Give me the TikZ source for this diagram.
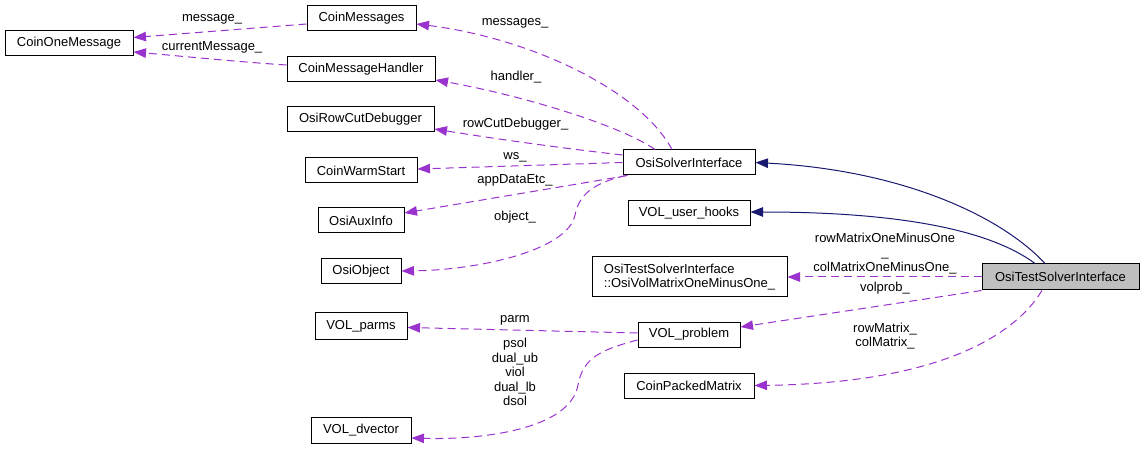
\documentclass[tikz,border=0pt]{standalone}
\usepackage{fontspec}
\setmainfont{Liberation Sans}
\usetikzlibrary{arrows.meta}
\definecolor{navyedge}{HTML}{191970}
\definecolor{usecol}{HTML}{9A32CD}
\definecolor{grayfill}{HTML}{BFBFBF}
\begin{document}
\begin{tikzpicture}[x=1pt,y=-1pt,
  cls/.style={draw=black, line width=1pt, inner sep=0pt, minimum height=25pt, font=\fontsize{13}{14.5}\selectfont},
  lbl/.style={inner sep=0pt, align=center, font=\fontsize{13}{14.5}\selectfont},
  uses/.style={draw=usecol, line width=1pt, dash pattern=on 8pt off 5pt, -{Triangle[length=12.5pt,width=9.5pt]}},
  inh/.style={draw=navyedge, line width=1pt, -{Triangle[length=12.5pt,width=9.5pt]}}
]
\useasboundingbox (0,0) rectangle (1144,449);
% class nodes
\node[cls, minimum width=128pt] (com) at (69,43.5) {CoinOneMessage};
\node[cls, minimum width=109pt] (cm) at (361.5,18.5) {CoinMessages};
\node[cls, minimum width=148pt] (cmh) at (361,69.5) {CoinMessageHandler};
\node[cls, minimum width=147pt] (rcd) at (360.5,119.5) {OsiRowCutDebugger};
\node[cls, minimum width=112pt] (cws) at (361,170.5) {CoinWarmStart};
\node[cls, minimum width=86pt] (aux) at (361,220.5) {OsiAuxInfo};
\node[cls, minimum width=80pt] (obj) at (361,271) {OsiObject};
\node[cls, minimum width=132pt] (osi) at (689,162.5) {OsiSolverInterface};
\node[cls, minimum width=122pt] (vuh) at (689,213.5) {VOL\_user\_hooks};
\node[cls, minimum width=195pt, minimum height=40pt, align=left] (ovm) at (689.5,277) {OsiTestSolverInterface\\::OsiVolMatrixOneMinusOne\_};
\node[cls, minimum width=157pt, minimum height=26pt, fill=grayfill] (ots) at (1060.5,277) {OsiTestSolverInterface};
\node[cls, minimum width=102pt] (vp) at (689,334.5) {VOL\_problem};
\node[cls, minimum width=130pt] (cpm) at (689,385.5) {CoinPackedMatrix};
\node[cls, minimum width=92pt, minimum height=26pt] (vparms) at (361,326) {VOL\_parms};
\node[cls, minimum width=100pt, minimum height=26pt] (vdv) at (361,430) {VOL\_dvector};
% labels
\node[lbl] (lmsg) at (212,19) {message\_};
\node[lbl] (lcur) at (212,47) {currentMessage\_};
\node[lbl] (lmsgs) at (515,23) {messages\_};
\node[lbl] (lhand) at (516,77) {handler\_};
\node[lbl] (lrcd) at (515.5,124) {rowCutDebugger\_};
\node[lbl] (lws) at (515,157) {ws\_};
\node[lbl] (lapp) at (515,180) {appDataEtc\_};
\node[lbl] (lobj) at (515,217) {object\_};
\node[lbl] (lrmo) at (885,253.5) {rowMatrixOneMinusOne\\\_\\colMatrixOneMinusOne\_};
\node[lbl] (lvp) at (885,288) {volprob\_};
\node[lbl] (lrm) at (885,336) {rowMatrix\_\\colMatrix\_};
\node[lbl] (lparm) at (515,320) {parm};
\node[lbl] (lsol) at (515,372) {psol\\dual\_ub\\viol\\dual\_lb\\dsol};
% usage edges
\draw[uses] ([yshift=-5.5pt]cm.west) -- ([yshift=6pt]com.east);
\draw[uses] ([yshift=4.5pt]cmh.west) .. controls (240,62) and (180,56) .. ([yshift=-8.5pt]com.east);
\draw[uses] ([xshift=-17pt]osi.north) .. controls (640,90) and (530,38) .. ([yshift=-5.5pt]cm.east);
\draw[uses] ([xshift=-34pt]osi.north) .. controls (620,125) and (520,95) .. ([yshift=-10.5pt]cmh.east);
\draw[uses] ([yshift=7.5pt]osi.west) .. controls (560,148) and (490,138) .. ([yshift=-9.5pt]rcd.east);
\draw[uses] (osi.west) -- ([yshift=1.5pt]cws.east);
\draw[uses] ([xshift=5pt]osi.south west) .. controls (560,187) and (470,202) .. ([yshift=7.5pt]aux.east);
\draw[uses] ([xshift=3pt]osi.south west) .. controls (600,182) and (580,190) .. (575,215) .. controls (568,250) and (480,270) .. (obj.east);
\draw[uses] (ots.west) -- (ovm.east);
\draw[uses] (ots.south west) -- ([yshift=7.5pt]vp.east);
\draw[uses] ([xshift=-18.5pt]ots.south) .. controls (1015,335) and (940,383) .. (cpm.east);
\draw[uses] ([yshift=1.5pt]vp.west) -- ([yshift=-1.5pt]vparms.east);
\draw[uses] ([yshift=-5.5pt]vp.west) .. controls (600,350) and (583,358) .. (578,385) .. controls (570,430) and (480,440) .. ([yshift=-8pt]vdv.east);
% inheritance edges
\draw[inh] ([xshift=-15.5pt]ots.north) .. controls (1000,215) and (900,170) .. (osi.east);
\draw[inh] ([xshift=-25.5pt]ots.north) .. controls (990,230) and (900,212) .. ([yshift=1.5pt]vuh.east);
\end{tikzpicture}
\end{document}
